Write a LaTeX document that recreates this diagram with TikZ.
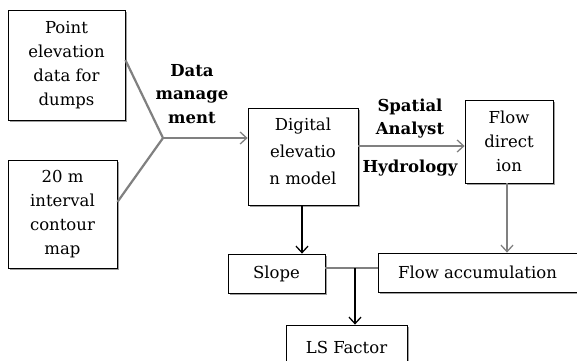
\documentclass[tikz,border=0pt]{standalone}
\usepackage{fontspec}
\setmainfont{DejaVu Serif}
\usetikzlibrary{arrows.meta,shadows}
\tikzset{
  box/.style={draw=black, line width=0.8pt, fill=white, align=center,
    inner sep=0pt, font=\fontsize{16.5}{24}\selectfont,
    drop shadow={shadow xshift=1.6pt, shadow yshift=-1.6pt, fill=gray!75, opacity=1}},
  boxtext/.style={align=center, inner sep=0pt, font=\fontsize{16.5}{24}\selectfont},
  lbl/.style={align=center, inner sep=0pt, font=\fontsize{16.5}{23.5}\selectfont\bfseries},
  greyline/.style={draw=gray, line width=2.2pt},
  blackline/.style={draw=black, line width=1.6pt},
  tip/.style={-{Straight Barb[length=6.5pt,width=12pt,line width=1.3pt]}}
}
\begin{document}
\begin{tikzpicture}[x=1pt,y=-1pt]
\clip (0,0) rectangle (577,360);
\useasboundingbox (0,0) rectangle (577,360);
\fill[white] (0,0) rectangle (577,360);

% boxes
\node[box, minimum width=117pt, minimum height=110pt] (pe) at (66.5,65) {Point\\elevation\\data for\\dumps};
\node[box, minimum width=109pt, minimum height=108pt] (cm) at (62.5,214) {20 m\\interval\\contour\\map};
\node[box, minimum width=110pt, minimum height=97pt] (dem) at (303,156.5) {};
\node[boxtext] (demtext) at (303,151) {Digital\\[3pt]elevatio\\[3pt]n model};
\node[box, minimum width=88pt, minimum height=83pt] (fd) at (509,141.5) {Flow\\direct\\ion};
\node[box, minimum width=97pt, minimum height=39pt] (sl) at (276.5,273.5) {Slope};
\node[box, minimum width=204pt, minimum height=39pt] (fa) at (480,272.5) {Flow accumulation\hspace*{5pt}};
\node[box, minimum width=121pt, minimum height=44pt] (ls) at (346.5,347) {LS Factor};

% labels
\node[lbl] (dm) at (192,94) {Data\\manage\\ment};
\node[lbl] (sa) at (410,118.5) {Spatial\\Analyst};
\node[lbl] (hy) at (410,168) {Hydrology};

% data management fork
\coordinate (j) at (163,138);
\draw[greyline] (pe.east |- 0,60) -- (j);
\draw[greyline] (cm.east |- 0,202) -- (j);
\draw[greyline, tip] (j) -- (dem.west |- j);

% spatial analyst hydrology
\draw[greyline, tip] (dem.east |- 0,146) -- (fd.west |- 0,146);

% downstream products
\draw[blackline, tip] (dem.south -| 302,0) -- (sl.north -| 302,0);
\draw[greyline, tip] (fd.south -| 507,0) -- (fa.north -| 507,0);
\coordinate (k) at (355,268);
\draw[greyline] (sl.east |- k) -- (fa.west |- k);
\draw[blackline, tip] (k) -- (ls.north -| k);
\end{tikzpicture}
\end{document}
